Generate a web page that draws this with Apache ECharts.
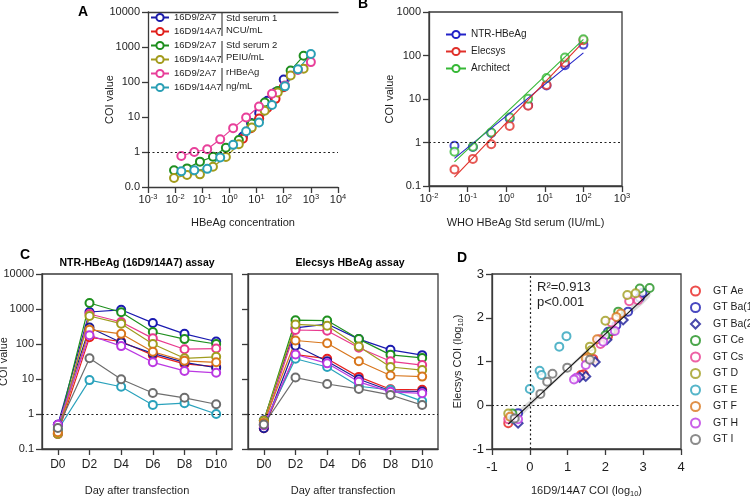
<!DOCTYPE html>
<html><head><meta charset="utf-8">
<script src="https://cdn.jsdelivr.net/npm/echarts@6/dist/echarts.min.js"></script>
<style>html,body{margin:0;padding:0;background:#fff}#c{width:750px;height:497px}</style>
</head><body><div id="c"></div>
<script>
// ---------- Panel A ----------
const xStd1 = [3.125, 6.25, 12.5, 25, 50, 100];
const aStd1_2A7 = [2.76, 6.7, 13, 29, 51, 118];
const aStd1_14A7 = [2.4, 4.8, 9.1, 18, 33, 71];
const xStd2 = [0.0091, 0.0274, 0.082, 0.247, 0.74, 2.22, 6.67, 20, 60, 180, 540];
const aStd2_2A7 = [0.30, 0.34, 0.53, 0.73, 1.33, 2.2, 6.5, 26, 55, 214, 560];
const aStd2_14A7 = [0.18, 0.22, 0.23, 0.38, 0.72, 1.66, 5, 15, 50, 154, 240];
const xRh = [0.0169, 0.0508, 0.152, 0.457, 1.37, 4.12, 12.3, 37, 111, 333, 1000];
const aRh_2A7 = [0.77, 1.0, 1.2, 2.3, 4.8, 9.7, 20, 46, 80, 220, 370];
const aRh_14A7 = [0.28, 0.30, 0.33, 0.70, 1.6, 3.9, 7, 22, 75, 230, 630];
const aXExp = ['-3', '-2', '-1', '0', '1', '2', '3', '4'];
const aYTicks = ['0.0', '1', '10', '100', '1000', '10000'];

// ---------- Panel B ----------
const xB = [0.0457, 0.137, 0.41, 1.23, 3.7, 11.1, 33.3, 100];
const bNTR = [0.84, 0.79, 1.66, 3.56, 7.2, 20.5, 60, 178];
const bElecsys = [0.24, 0.42, 0.91, 2.4, 7, 21, 68, 225];
const bArchitect = [0.61, 0.8, 1.7, 3.8, 10.2, 30.5, 90, 237];
const fitNTR = [[0.0457, 0.43], [100, 115]];
const fitElecsys = [[0.0457, 0.16], [100, 205]];
const fitArchitect = [[0.0457, 0.36], [100, 234]];
const bXExp = ['-2', '-1', '0', '1', '2', '3'];
const bYTicks = ['0.1', '1', '10', '100', '1000'];

// ---------- Panel C ----------
const days = ['D0', 'D2', 'D4', 'D6', 'D8', 'D10'];
const cYTicks = ['0.1', '1', '10', '100', '1000', '10000'];
const gtNames = ['GT Ae', 'GT Ba(1)', 'GT Ba(2)', 'GT Ce', 'GT Cs', 'GT D', 'GT E', 'GT F', 'GT H', 'GT I'];
const ntrAe = [0.27, 155, 118, 48, 27, 22.5];
const ntrBa1 = [0.49, 820, 950, 400, 195, 118];
const ntrBa2 = [0.49, 295, 110, 54, 30, 21];
const ntrCe = [0.35, 1480, 810, 220, 138, 100];
const ntrCs = [0.27, 720, 425, 145, 71, 74];
const ntrD = [0.27, 630, 380, 100, 39, 43];
const ntrE = [0.35, 9.3, 6.0, 1.82, 2.04, 1.0];
const ntrF = [0.30, 257, 195, 60, 33, 30];
const ntrH = [0.49, 178, 87, 30, 17, 15];
const ntrI = [0.40, 39, 9.8, 4.0, 2.9, 1.9];
const elcAe = [0.39, 50, 38, 11.5, 5.1, 4.9];
const elcBa1 = [0.66, 288, 372, 138, 68, 48];
const elcBa2 = [0.39, 89, 32, 9.8, 4.6, 4.4];
const elcCe = [0.64, 478, 468, 138, 49, 40];
const elcCs = [0.48, 251, 240, 78, 32, 25];
const elcD = [0.64, 363, 331, 85, 22, 18];
const elcE = [0.50, 38, 22, 6.2, 4.9, 2.34];
const elcF = [0.55, 126, 105, 32, 12.6, 11.7];
const elcH = [0.48, 50, 28, 8.3, 4.3, 3.9];
const elcI = [0.50, 11, 7.2, 5.2, 3.5, 1.8];

// ---------- Panel D (log10 values) ----------
const dAe = [[-0.57, -0.41], [2.19, 1.70], [2.07, 1.58], [1.68, 1.06], [1.43, 0.71], [1.35, 0.69]];
const dBa1 = [[-0.31, -0.18], [2.91, 2.46], [2.98, 2.57], [2.60, 2.14], [2.29, 1.83], [2.07, 1.68]];
const dBa2 = [[-0.31, -0.41], [2.47, 1.95], [2.04, 1.50], [1.73, 0.99], [1.48, 0.66], [1.32, 0.64]];
const dCe = [[-0.46, -0.19], [3.17, 2.68], [2.91, 2.67], [2.34, 2.14], [2.14, 1.69], [2.00, 1.60]];
const dCs = [[-0.57, -0.32], [2.86, 2.40], [2.63, 2.38], [2.16, 1.89], [1.85, 1.51], [1.87, 1.40]];
const dD = [[-0.57, -0.19], [2.80, 2.56], [2.58, 2.52], [2.00, 1.93], [1.59, 1.34], [1.63, 1.26]];
const dE = [[-0.45, -0.30], [0.97, 1.58], [0.78, 1.34], [0.26, 0.79], [0.31, 0.69], [0.00, 0.37]];
const dF = [[-0.52, -0.26], [2.41, 2.10], [2.29, 2.02], [1.78, 1.51], [1.52, 1.10], [1.48, 1.07]];
const dH = [[-0.31, -0.32], [2.25, 1.70], [1.94, 1.45], [1.48, 0.92], [1.23, 0.63], [1.17, 0.59]];
const dI = [[-0.40, -0.30], [1.59, 1.04], [0.99, 0.86], [0.60, 0.72], [0.46, 0.54], [0.28, 0.26]];
const dFit = [[-0.57, -0.43], [3.17, 2.57]];
const dBandX = [-0.57, 0.3, 1.3, 2.3, 3.17];
const dBandLo = [-0.53, 0.22, 1.03, 1.82, 2.47];
const dBandHi = [-0.33, 0.32, 1.11, 1.92, 2.67];

// ---------- styling ----------
const FONT = "'Liberation Sans', Arial, Helvetica, sans-serif";
const AX = '#3a3a3a';
const TXT = '#1e1e1e';
const gtColors = ['#e8201e', '#1a1ab0', '#1a1a96', '#1e901e', '#e83a8e', '#a09c1e', '#2aa2bc', '#d8761c', '#bb38e2', '#6e6e6e'];
const gtSymbols = ['circle', 'circle', 'diamond', 'circle', 'circle', 'circle', 'circle', 'circle', 'circle', 'circle'];
const ntrData = [ntrAe, ntrBa1, ntrBa2, ntrCe, ntrCs, ntrD, ntrE, ntrF, ntrH, ntrI];
const elcData = [elcAe, elcBa1, elcBa2, elcCe, elcCs, elcD, elcE, elcF, elcH, elcI];
const dData = [dAe, dBa1, dBa2, dCe, dCs, dD, dE, dF, dH, dI];

const lab = (o) => Object.assign({color: TXT, fontSize: 11, fontFamily: FONT}, o || {});
const lineCommon = {show: true, onZero: false, lineStyle: {color: AX, width: 1.3}};
const tickCommon = (len) => ({show: true, inside: false, length: len || 5, lineStyle: {color: AX, width: 1.3}});
const nameStyle = (o) => Object.assign({color: TXT, fontSize: 11, fontFamily: FONT}, o || {});
const supRich = {
  b: {fontSize: 11, lineHeight: 14, fontFamily: FONT, color: TXT},
  s: {fontSize: 7.5, lineHeight: 8, verticalAlign: 'top', fontFamily: FONT, color: TXT}
};
const subRich = {
  sub: {fontSize: 7.5, lineHeight: 8, verticalAlign: 'bottom', fontFamily: FONT, color: TXT}
};
const dotted = {color: '#222', width: 1.2, type: [2, 2.5]};
const hMark = (v) => ({silent: true, symbol: ['none', 'none'], label: {show: false}, lineStyle: dotted, data: [{yAxis: v}]});

function lineS(name, xi, yi, data, color, extra) {
  return Object.assign({
    type: 'line', name: name, xAxisIndex: xi, yAxisIndex: yi, data: data,
    symbol: 'circle', symbolSize: 8, showSymbol: true,
    lineStyle: {color: color, width: 1.2},
    itemStyle: {color: '#fff', borderColor: color, borderWidth: 2}
  }, extra || {});
}
const pairs = (xs, ys) => xs.map((x, i) => [x, ys[i]]);
const logIdx = (v, off) => Math.round(Math.log10(v)) + off;

const series = [];
// Panel A
const aCols = ['#1c1caa', '#e0201c', '#1f8f1f', '#a39b1c', '#e8409a', '#2a9fb5'];
const aNames = ['16D9/2A7', '16D9/14A7', '16D9/2A7 ', '16D9/14A7 ', '16D9/2A7  ', '16D9/14A7  '];
const aSets = [pairs(xStd1, aStd1_2A7), pairs(xStd1, aStd1_14A7), pairs(xStd2, aStd2_2A7), pairs(xStd2, aStd2_14A7), pairs(xRh, aRh_2A7), pairs(xRh, aRh_14A7)];
aSets.forEach((d, i) => series.push(lineS(aNames[i], 0, 0, d, aCols[i], i === 0 ? {markLine: hMark(1)} : {})));

// Panel B
const bCols = ['#2222c8', '#e0302a', '#36b836'];
const bNames = ['NTR-HBeAg', 'Elecsys', 'Architect'];
const bFits = [fitNTR, fitElecsys, fitArchitect];
const bVals = [bNTR, bElecsys, bArchitect];
bFits.forEach((f, i) => series.push(lineS(bNames[i], 2, 1, f, bCols[i], {showSymbol: false, lineStyle: {color: bCols[i], width: 1.1}})));
bVals.forEach((v, i) => series.push({
  type: 'scatter', name: bNames[i], xAxisIndex: 2, yAxisIndex: 1, data: pairs(xB, v),
  symbol: 'circle', symbolSize: 8, itemStyle: {color: '#fff', borderColor: bCols[i], borderWidth: 2},
  markLine: i === 0 ? hMark(1) : undefined
}));

// Panel C
ntrData.forEach((d, i) => series.push(lineS('NTR ' + gtNames[i], 3, 2, d, gtColors[i], i === 0 ? {markLine: hMark(1)} : {})));
elcData.forEach((d, i) => series.push(lineS('Elecsys ' + gtNames[i], 4, 3, d, gtColors[i], i === 0 ? {markLine: hMark(1)} : {})));

// Panel D
series.push({
  type: 'custom', name: 'band', xAxisIndex: 5, yAxisIndex: 4, silent: true,
  data: dBandX.map((x, i) => [x, dBandLo[i], dBandHi[i]]),
  encode: {x: 0, y: [1, 2]},
  renderItem: function (params, api) {
    if (params.dataIndex !== 0) return null;
    const pts = [];
    for (let i = 0; i < dBandX.length; i++) pts.push(api.coord([dBandX[i], dBandHi[i]]));
    for (let i = dBandX.length - 1; i >= 0; i--) pts.push(api.coord([dBandX[i], dBandLo[i]]));
    return {type: 'polygon', shape: {points: pts, smooth: 0.3}, style: {fill: 'rgba(185,185,185,0.55)'}};
  },
  markLine: {silent: true, symbol: ['none', 'none'], label: {show: false}, lineStyle: dotted, data: [{xAxis: 0}, {yAxis: 0}]}
});
series.push({type: 'line', name: 'fit', xAxisIndex: 5, yAxisIndex: 4, data: dFit, showSymbol: false, lineStyle: {color: '#111', width: 1.1}});
dData.forEach((d, i) => series.push({
  type: 'scatter', name: gtNames[i], xAxisIndex: 5, yAxisIndex: 4, data: d,
  symbol: gtSymbols[i], symbolSize: gtSymbols[i] === 'diamond' ? 9 : 8,
  itemStyle: {color: '#fff', borderColor: gtColors[i], borderWidth: 2}
}));

const option = {
  animation: false,
  backgroundColor: '#fff',
  textStyle: {fontFamily: FONT},
  grid: [
    {left: 148, top: 12, width: 190, height: 175, outerBoundsMode: 'none'},
    {left: 429, top: 12, width: 193, height: 174, show: true, borderColor: AX, borderWidth: 1.3, backgroundColor: 'transparent', outerBoundsMode: 'none'},
    {left: 42, top: 274, width: 190, height: 175, show: true, borderColor: AX, borderWidth: 1.3, backgroundColor: 'transparent', outerBoundsMode: 'none'},
    {left: 248, top: 274, width: 190, height: 175, show: true, borderColor: AX, borderWidth: 1.3, backgroundColor: 'transparent', outerBoundsMode: 'none'},
    {left: 492, top: 274, width: 189, height: 175, show: true, borderColor: AX, borderWidth: 1.3, backgroundColor: 'transparent', outerBoundsMode: 'none'}
  ],
  xAxis: [
    {type: 'log', gridIndex: 0, min: 0.001, max: 10000, axisLine: lineCommon, axisTick: tickCommon(6), splitLine: {show: false},
      axisLabel: lab({margin: 6, formatter: v => '{b|10}{s|' + aXExp[logIdx(v, 3)] + '}', rich: supRich}),
      name: 'HBeAg concentration', nameLocation: 'middle', nameGap: 30, nameMoveOverlap: false, nameTextStyle: nameStyle()},
    {type: 'log', gridIndex: 0, min: 0.001, max: 10000, position: 'top', axisLine: lineCommon, axisTick: {show: false}, axisLabel: {show: false}, splitLine: {show: false}},
    {type: 'log', gridIndex: 1, min: 0.01, max: 1000, axisLine: lineCommon, axisTick: tickCommon(6), splitLine: {show: false},
      axisLabel: lab({margin: 6, formatter: v => '{b|10}{s|' + bXExp[logIdx(v, 2)] + '}', rich: supRich}),
      name: 'WHO HBeAg Std serum (IU/mL)', nameLocation: 'middle', nameGap: 31, nameMoveOverlap: false, nameTextStyle: nameStyle()},
    {type: 'category', gridIndex: 2, data: days, boundaryGap: true, axisLine: lineCommon, axisTick: Object.assign(tickCommon(6), {alignWithLabel: true}),
      axisLabel: lab({fontSize: 12, margin: 10}), name: 'Day after transfection', nameLocation: 'middle', nameGap: 36, nameMoveOverlap: false, nameTextStyle: nameStyle()},
    {type: 'category', gridIndex: 3, data: days, boundaryGap: true, axisLine: lineCommon, axisTick: Object.assign(tickCommon(6), {alignWithLabel: true}),
      axisLabel: lab({fontSize: 12, margin: 10}), name: 'Day after transfection', nameLocation: 'middle', nameGap: 36, nameMoveOverlap: false, nameTextStyle: nameStyle()},
    {type: 'value', gridIndex: 4, min: -1, max: 4, interval: 1, axisLine: lineCommon, axisTick: tickCommon(6), splitLine: {show: false},
      axisLabel: lab({fontSize: 13, margin: 12}),
      name: '16D9/14A7 COI (log{sub|10})', nameLocation: 'middle', nameGap: 35, nameMoveOverlap: false, nameTextStyle: nameStyle({lineHeight: 14, rich: subRich})}
  ],
  yAxis: [
    {type: 'log', gridIndex: 0, min: 0.1, max: 10000, axisLine: lineCommon, axisTick: tickCommon(6), splitLine: {show: false},
      axisLabel: lab({margin: 8, formatter: v => aYTicks[logIdx(v, 1)]}),
      name: 'COI value', nameLocation: 'middle', nameGap: 33, nameMoveOverlap: false, nameTextStyle: nameStyle()},
    {type: 'log', gridIndex: 1, min: 0.1, max: 1000, axisLine: lineCommon, axisTick: tickCommon(6), splitLine: {show: false},
      axisLabel: lab({margin: 8, formatter: v => bYTicks[logIdx(v, 1)]}),
      name: 'COI value', nameLocation: 'middle', nameGap: 34, nameMoveOverlap: false, nameTextStyle: nameStyle()},
    {type: 'log', gridIndex: 2, min: 0.1, max: 10000, axisLine: lineCommon, axisTick: tickCommon(6), splitLine: {show: false},
      axisLabel: lab({margin: 8, formatter: v => cYTicks[logIdx(v, 1)]}),
      name: 'COI value', nameLocation: 'middle', nameGap: 33, nameMoveOverlap: false, nameTextStyle: nameStyle()},
    {type: 'log', gridIndex: 3, min: 0.1, max: 10000, axisLine: lineCommon, axisTick: tickCommon(6), splitLine: {show: false},
      axisLabel: {show: false}},
    {type: 'value', gridIndex: 4, min: -1, max: 3, interval: 1, axisLine: lineCommon, axisTick: tickCommon(6), splitLine: {show: false},
      axisLabel: lab({fontSize: 13, margin: 8}),
      name: 'Elecsys COI (log{sub|10})', nameLocation: 'middle', nameGap: 27, nameMoveOverlap: false, nameTextStyle: nameStyle({lineHeight: 14, rich: subRich})}
  ],
  legend: [
    {data: aNames, left: 150, top: 12, orient: 'vertical', itemWidth: 18, itemHeight: 9, itemGap: 3, padding: 0,
      selectedMode: false, formatter: n => n.trim(), textStyle: {color: TXT, fontSize: 9.5, fontFamily: FONT, lineHeight: 11}},
    {data: bNames, left: 445, top: 29, orient: 'vertical', itemWidth: 20, itemHeight: 9, itemGap: 6, padding: 0,
      selectedMode: false, textStyle: {color: TXT, fontSize: 10, fontFamily: FONT, lineHeight: 11}},
    {data: gtNames, left: 690, top: 285, orient: 'vertical', itemWidth: 9, itemHeight: 9, itemGap: 4.5, padding: 0,
      selectedMode: false, textStyle: {color: TXT, fontSize: 10.5, fontFamily: FONT, lineHeight: 12, padding: [0, 0, 0, 8]}}
  ],
  series: series,
  graphic: [
    {type: 'text', x: 78, y: 5, style: {text: 'A', fontSize: 14, fontWeight: 'bold', fontFamily: FONT, fill: '#000'}},
    {type: 'text', x: 358, y: -3, style: {text: 'B', fontSize: 14, fontWeight: 'bold', fontFamily: FONT, fill: '#000'}},
    {type: 'text', x: 20, y: 248, style: {text: 'C', fontSize: 14, fontWeight: 'bold', fontFamily: FONT, fill: '#000'}},
    {type: 'text', x: 457, y: 251, style: {text: 'D', fontSize: 14, fontWeight: 'bold', fontFamily: FONT, fill: '#000'}},
    {type: 'text', x: 137, y: 263, style: {text: 'NTR-HBeAg (16D9/14A7) assay', fontSize: 10.5, fontWeight: 'bold', fontFamily: FONT, fill: '#000', align: 'center', verticalAlign: 'middle'}},
    {type: 'text', x: 350, y: 263, style: {text: 'Elecsys HBeAg assay', fontSize: 10.5, fontWeight: 'bold', fontFamily: FONT, fill: '#000', align: 'center', verticalAlign: 'middle'}},
    {type: 'line', shape: {x1: 222, y1: 13, x2: 222, y2: 36}, style: {stroke: '#222', lineWidth: 1}},
    {type: 'line', shape: {x1: 222, y1: 41, x2: 222, y2: 63}, style: {stroke: '#222', lineWidth: 1}},
    {type: 'line', shape: {x1: 222, y1: 68, x2: 222, y2: 91}, style: {stroke: '#222', lineWidth: 1}},
    {type: 'text', x: 226, y: 18, style: {text: 'Std serum 1', fontSize: 9.5, fontFamily: FONT, fill: TXT, verticalAlign: 'middle'}},
    {type: 'text', x: 226, y: 30, style: {text: 'NCU/mL', fontSize: 9.5, fontFamily: FONT, fill: TXT, verticalAlign: 'middle'}},
    {type: 'text', x: 226, y: 45, style: {text: 'Std serum 2', fontSize: 9.5, fontFamily: FONT, fill: TXT, verticalAlign: 'middle'}},
    {type: 'text', x: 226, y: 57.5, style: {text: 'PEIU/mL', fontSize: 9.5, fontFamily: FONT, fill: TXT, verticalAlign: 'middle'}},
    {type: 'text', x: 226, y: 72.5, style: {text: 'rHBeAg', fontSize: 9.5, fontFamily: FONT, fill: TXT, verticalAlign: 'middle'}},
    {type: 'text', x: 226, y: 86, style: {text: 'ng/mL', fontSize: 9.5, fontFamily: FONT, fill: TXT, verticalAlign: 'middle'}},
    {type: 'text', x: 537, y: 287, style: {text: 'R²=0.913', fontSize: 13, fontFamily: FONT, fill: TXT, verticalAlign: 'middle'}},
    {type: 'text', x: 537, y: 302, style: {text: 'p<0.001', fontSize: 13, fontFamily: FONT, fill: TXT, verticalAlign: 'middle'}}
  ]
};
const chart = echarts.init(document.getElementById('c'), null, {renderer: 'canvas'});
chart.setOption(option);
</script>
</body></html>
